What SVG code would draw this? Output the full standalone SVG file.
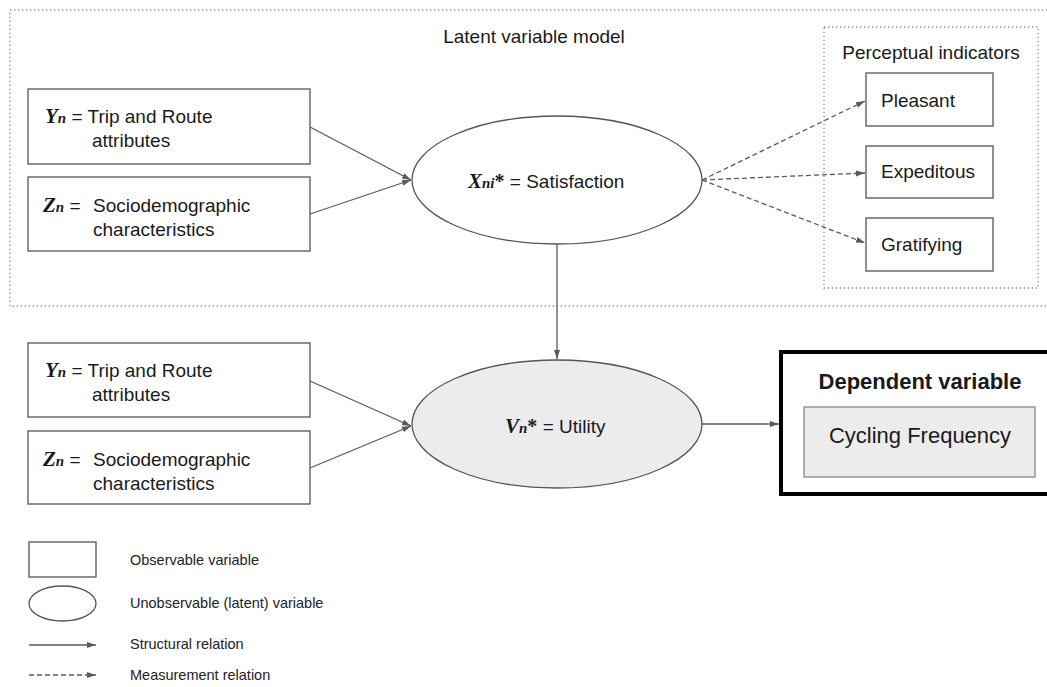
<svg xmlns="http://www.w3.org/2000/svg" width="1047" height="687" viewBox="0 0 1047 687">
<style>
text{font-family:"Liberation Sans",Arial,sans-serif;fill:#1a1a1a}
.lbl{font-size:19px}
.leg{font-size:14.5px;fill:#222}
.v{font-family:"Liberation Serif","Times New Roman",serif;font-weight:bold;font-style:italic;font-size:21px}
.s{font-family:"Liberation Serif","Times New Roman",serif;font-weight:bold;font-style:italic;font-size:15px}
.st{font-family:"Liberation Serif","Times New Roman",serif;font-weight:bold;font-size:20px}
.box{fill:#fff;stroke:#555;stroke-width:1.3}
.ell{fill:#fff;stroke:#555;stroke-width:1.3}
.dot{fill:none;stroke:#8a8a8a;stroke-width:1.3;stroke-dasharray:1.3 2.7}
.con{fill:none;stroke:#5a5a5a;stroke-width:1.3}
.dash{stroke-dasharray:5 3}
</style>
<defs>
<marker id="ah" markerWidth="10" markerHeight="8" refX="9" refY="4" orient="auto" markerUnits="userSpaceOnUse">
<path d="M0,1 L9,4 L0,7 Z" fill="#5a5a5a"/>
</marker>
</defs>
<rect width="1047" height="687" fill="#fff"/>

<g id="latent-model-frame">
<rect class="dot" x="10" y="10" width="1060" height="296"/>
<text class="lbl" x="534" y="43" text-anchor="middle">Latent variable model</text>
</g>
<g id="perceptual-frame">
<rect class="dot" x="824" y="27" width="214" height="261"/>
<text class="lbl" x="931" y="59" text-anchor="middle">Perceptual indicators</text>
</g>

<g id="connectors">
<line class="con" x1="310" y1="127" x2="411" y2="180" marker-end="url(#ah)"/>
<line class="con" x1="310" y1="214" x2="411" y2="180" marker-end="url(#ah)"/>
<line class="con dash" x1="702" y1="180" x2="865" y2="101" marker-end="url(#ah)"/>
<line class="con dash" x1="702" y1="180" x2="865" y2="173" marker-end="url(#ah)"/>
<line class="con dash" x1="702" y1="180" x2="865" y2="243" marker-end="url(#ah)"/>
<line class="con" x1="557" y1="244" x2="557" y2="359" marker-end="url(#ah)"/>
<line class="con" x1="310" y1="381" x2="411" y2="426" marker-end="url(#ah)"/>
<line class="con" x1="310" y1="468" x2="411" y2="426" marker-end="url(#ah)"/>
<line class="con" x1="702" y1="424" x2="779" y2="424" marker-end="url(#ah)"/>
</g>

<g id="yn-top">
<rect class="box" x="28" y="89" width="282" height="75"/>
<text class="lbl" x="45" y="123"><tspan class="v">Y</tspan><tspan class="s">n</tspan> = Trip and Route</text>
<text class="lbl" x="92" y="147">attributes</text>
</g>
<g id="zn-top">
<rect class="box" x="28" y="177" width="282" height="74"/>
<text class="lbl" x="43" y="212"><tspan class="v">Z</tspan><tspan class="s">n</tspan> = </text>
<text class="lbl" x="93" y="212">Sociodemographic</text>
<text class="lbl" x="93" y="236">characteristics</text>
</g>

<g id="satisfaction">
<ellipse class="ell" cx="557" cy="180" rx="145" ry="64"/>
<text class="lbl" x="468" y="188"><tspan class="v">X</tspan><tspan class="s">ni</tspan><tspan class="st">*</tspan> = Satisfaction</text>
</g>

<g id="pleasant">
<rect class="box" x="866" y="73" width="127" height="53"/>
<text class="lbl" x="881" y="107">Pleasant</text>
</g>
<g id="expeditous">
<rect class="box" x="866" y="146" width="127" height="52"/>
<text class="lbl" x="881" y="178">Expeditous</text>
</g>
<g id="gratifying">
<rect class="box" x="866" y="218" width="127" height="53"/>
<text class="lbl" x="881" y="251">Gratifying</text>
</g>

<g id="yn-bottom">
<rect class="box" x="28" y="343" width="282" height="74"/>
<text class="lbl" x="45" y="377"><tspan class="v">Y</tspan><tspan class="s">n</tspan> = Trip and Route</text>
<text class="lbl" x="92" y="401">attributes</text>
</g>
<g id="zn-bottom">
<rect class="box" x="28" y="431" width="282" height="73"/>
<text class="lbl" x="43" y="466"><tspan class="v">Z</tspan><tspan class="s">n</tspan> = </text>
<text class="lbl" x="93" y="466">Sociodemographic</text>
<text class="lbl" x="93" y="490">characteristics</text>
</g>

<g id="utility">
<ellipse cx="557" cy="424" rx="145" ry="64" fill="#ececef" stroke="#555" stroke-width="1.3"/>
<text class="lbl" x="505" y="433"><tspan class="v">V</tspan><tspan class="s">n</tspan><tspan class="st">*</tspan> = Utility</text>
</g>

<g id="dependent-variable">
<rect x="781" y="352" width="290" height="142" fill="#fff" stroke="#000" stroke-width="4"/>
<text x="920" y="389" text-anchor="middle" font-size="22" font-weight="bold" fill="#000">Dependent variable</text>
<rect x="804" y="407" width="231" height="70" fill="#ececec" stroke="#888" stroke-width="1.3"/>
<text x="920" y="443" text-anchor="middle" font-size="22">Cycling Frequency</text>
</g>

<g id="legend">
<rect class="box" x="29" y="542" width="67" height="35"/>
<text class="leg" x="130" y="565">Observable variable</text>
<ellipse class="ell" cx="62.5" cy="603.5" rx="33.5" ry="17.5"/>
<text class="leg" x="130" y="608">Unobservable (latent) variable</text>
<line class="con" x1="29" y1="645" x2="96" y2="645" marker-end="url(#ah)"/>
<text class="leg" x="130" y="649">Structural relation</text>
<line class="con dash" x1="29" y1="675" x2="96" y2="675" marker-end="url(#ah)"/>
<text class="leg" x="130" y="680">Measurement relation</text>
</g>
</svg>
